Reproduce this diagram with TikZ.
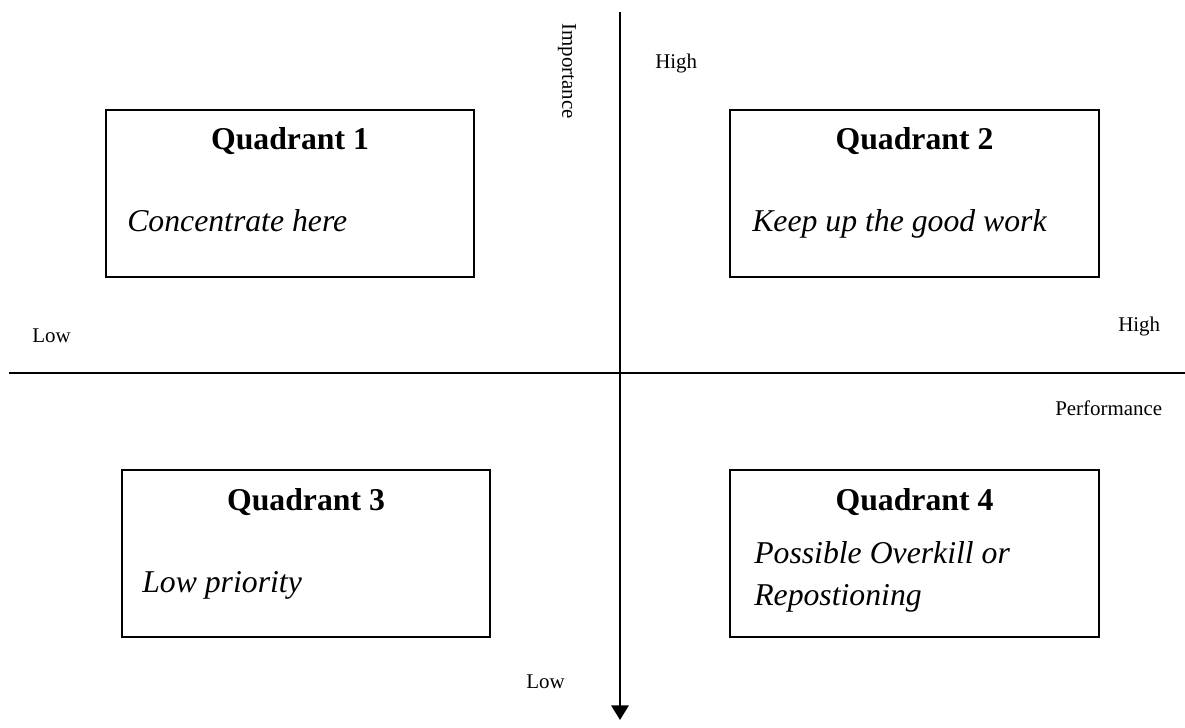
\documentclass[tikz,border=0pt]{standalone}
\usepackage{fontspec}
\setmainfont{Liberation Serif}
\usetikzlibrary{arrows.meta}
\begin{document}
\begin{tikzpicture}[x=0.75pt,y=-0.75pt,
  quadbox/.style={draw=black,line width=1.5pt},
  title/.style={anchor=base,inner sep=0pt,font=\fontsize{23.8}{28}\selectfont\bfseries},
  note/.style={anchor=base west,inner sep=0pt,font=\fontsize{23.8}{28}\selectfont\itshape},
  axislabel/.style={anchor=base west,inner sep=0pt,font=\fontsize{15.7}{19}\selectfont},
  axis/.style={line width=1.7pt}]
\useasboundingbox (0,0) rectangle (1185,728);

% axes
\coordinate (vtop) at (620,12);
\coordinate (vbot) at (620,720);
\coordinate (hleft) at (9,373);
\coordinate (hright) at (1185,373);
\draw[axis] (hleft) -- (hright);
\draw[axis,-{Triangle[width=13pt,length=11pt]}] (vtop) -- (vbot);

% axis labels
\node[font=\fontsize{15.7}{19}\selectfont,rotate=-90,inner sep=0pt] (imp) at (567,71) {Importance};
\node[axislabel] (vhigh) at (655,68) {High};
\node[axislabel] (vlow) at (526,688) {Low};
\node[axislabel] (hlow) at (32,342) {Low};
\node[axislabel] (hhigh) at (1118,331) {High};
\node[axislabel] (perf) at (1055,415) {Performance};

% quadrant boxes
\draw[quadbox] (106,110) rectangle (474,277);
\draw[quadbox] (730,110) rectangle (1099,277);
\draw[quadbox] (122,470) rectangle (490,637);
\draw[quadbox] (730,470) rectangle (1099,637);

% quadrant texts
\node[title] (q1) at (290,149) {Quadrant 1};
\node[note] (q1n) at (127,231) {Concentrate here};
\node[title] (q2) at (914.5,149) {Quadrant 2};
\node[note] (q2n) at (752,231) {Keep up the good work};
\node[title] (q3) at (306,510) {Quadrant 3};
\node[note] (q3n) at (142,592) {Low priority};
\node[title] (q4) at (914.5,510) {Quadrant 4};
\node[note] (q4n) at (754,563) {Possible Overkill or};
\node[note] (q4m) at (754,605) {Repostioning};
\end{tikzpicture}
\end{document}
